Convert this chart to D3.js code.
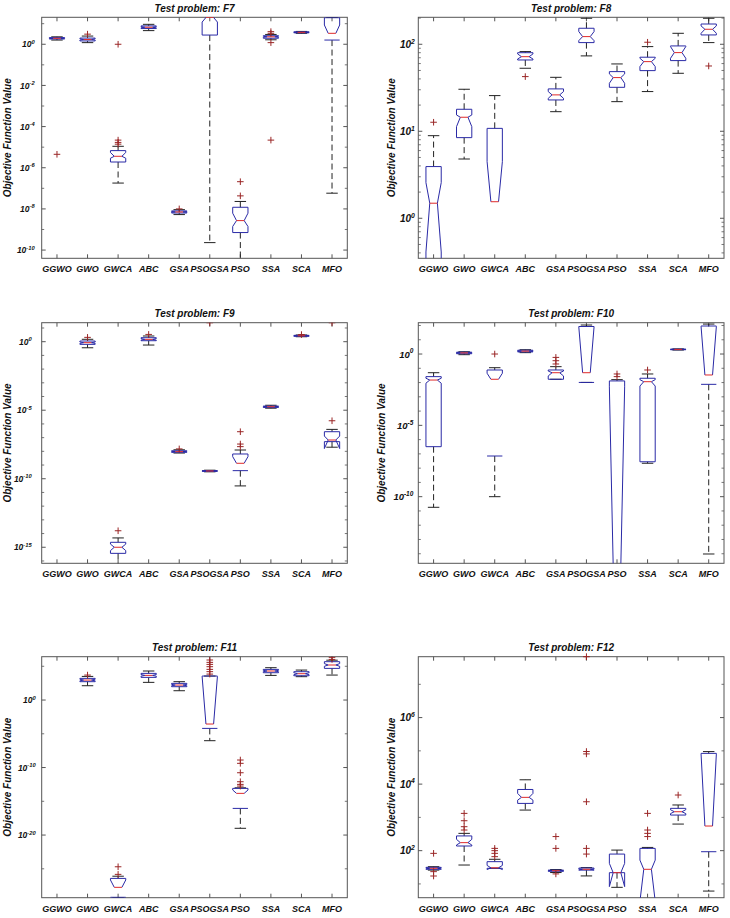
<!DOCTYPE html>
<html><head><meta charset="utf-8">
<script src="https://cdn.jsdelivr.net/npm/d3@7"></script>
<style>
body{margin:0;background:#fff;}
text{font-family:"Liberation Sans",Arial,Helvetica,sans-serif;font-weight:bold;font-style:italic;fill:#111;}
</style></head><body>
<svg id="chart" width="730" height="918"></svg>
<script>
const categories = ["GGWO","GWO","GWCA","ABC","GSA","PSOGSA","PSO","SSA","SCA","MFO"];

// ---------- F7 ----------
const F7_title = "Test problem: F7";
const F7_yLimExp = [-10.40, 1.31];
const F7_majorExp = [-10,-8,-6,-4,-2,0];
const F7_minor = [1e-9,1e-7,1e-5,1e-3,1e-1,10];
const F7_wlo = [1.6, 1.2, 1.8e-7, 4.6, 5.3e-9, 2.3e-10, 3.5e-11, 1.65, 3.4, 5.8e-8];
const F7_q1  = [1.8, 1.45, 1.9e-6, 5.8, 6.3e-9, 2.8, 7.1e-10, 1.96, 3.6, 1.6];
const F7_nlo = [1.88, 1.6, 2.9e-6, 6.3, 6.8e-9, 12, 1.4e-9, 2.15, 3.7, null];
const F7_med = [1.95, 1.7, 3.6e-6, 6.7, 7.1e-9, 20, 2.7e-9, 2.3, 3.8, 3.4];
const F7_nhi = [2.02, 1.85, 5.5e-6, 7.2, 7.5e-9, 28, 6.2e-9, 2.45, 3.9, 8.6];
const F7_q3  = [2.1, 2.0, 6.8e-6, 7.8, 8.0e-9, 30, 1.2e-8, 2.6, 4.0, 19.5];
const F7_whi = [2.3, 2.5, 1.1e-5, 9.3, 9.2e-9, 40, 2.3e-8, 3.0, 4.2, 20];
const F7_out = [[4.5e-6],[3.1],[1.4e-5,1.7e-5,2.2e-5,1.0],[],[1.0e-8],[],[4.3e-8,2.1e-7],[1.2,3.4,4.1,2.2e-5],[],[]];

// ---------- F8 ----------
const F8_title = "Test problem: F8";
const F8_yLimExp = [-0.46, 2.31];
const F8_majorExp = [0,1,2];
const F8_minor = [0.4,0.5,0.6,0.7,0.8,0.9,2,3,4,5,6,7,8,9,20,30,40,50,60,70,80,90,200];
const F8_wlo = [0.1, 4.8, 0.01, 53, 16.8, 73.5, 21.9, 28.6, 46.4, 104.5];
const F8_q1  = [0.2, 8.45, 0.1, 66, 22.9, 104.5, 32, 49.8, 64.9, 128];
const F8_nlo = [0.41, 11.3, null, 67.8, 23.9, 110, 35.6, 55.4, 69, 133.7];
const F8_med = [1.49, 14.5, 1.55, 72, 26.2, 122.5, 41.4, 63.2, 80.2, 148.7];
const F8_nhi = [2.57, 15.4, 4.48, 77.4, 28.6, 140, 45.6, 69, 94, 162.5];
const F8_q3  = [3.93, 17.9, 10.8, 80, 30.7, 152.8, 48.5, 71, 95.7, 171];
const F8_whi = [8.9, 30.4, 25.7, 82.4, 41.7, 199, 59.4, 94, 133.7, 199];
const F8_out = [[12.7],[],[],[42.5],[],[],[],[105.5],[],[56.3]];

// ---------- F9 ----------
const F9_title = "Test problem: F9";
const F9_yLimExp = [-16.17, 1.386];
const F9_majorExp = [-15,-10,-5,0];
const F9_minor = [1e-16,1e-14,1e-13,1e-12,1e-11,1e-9,1e-8,1e-7,1e-6,1e-4,1e-3,1e-2,1e-1,10];
const F9_wlo = [null, 0.36, 1e-17, 0.57, 7.5e-9, 3.2e-10, 3e-11, 1.4e-5, 2.3, 2.0e-8];
const F9_q1  = [null, 0.64, 3.6e-16, 1.18, 8.5e-9, 3.5e-10, 3.9e-10, 1.6e-5, 2.5, 5.1e-8];
const F9_nlo = [null, 0.75, 5.7e-16, 1.3, 9.0e-9, 3.6e-10, null, 1.7e-5, 2.6, 1.6e-8];
const F9_med = [null, 0.85, 1.0e-15, 1.48, 9.5e-9, 3.7e-10, 1.34e-9, 1.8e-5, 2.7, 6.7e-8];
const F9_nhi = [null, 0.95, 1.7e-15, 1.7, 1.0e-8, 3.8e-10, 4.1e-9, 1.9e-5, 2.8, 1.3e-7];
const F9_q3  = [null, 1.12, 2.3e-15, 1.96, 1.1e-8, 3.9e-10, 6.4e-9, 2.0e-5, 2.9, 2.7e-7];
const F9_whi = [null, 1.5, 4.8e-15, 2.6, 1.3e-8, 4.2e-10, 1.25e-8, 2.3e-5, 3.1, 4.0e-7];
const F9_out = [[],[2.07],[1.6e-14],[3.4],[1.5e-8],[24],[2.2e-8,3.4e-8,2.7e-7],[],[3.3],[1.7e-6,24]];

// ---------- F10 ----------
const F10_title = "Test problem: F10";
const F10_yLimExp = [-14.67, 2.196];
const F10_majorExp = [-10,-5,0];
const F10_minor = [1e-14,1e-13,1e-12,1e-11,1e-9,1e-8,1e-7,1e-6,1e-4,1e-3,1e-2,1e-1,10,100];
const F10_wlo = [1.8e-11, 0.9, 1e-10, 1.25, 0.017, 0.0102, 1e-16, 2.2e-8, 1.9, 9.6e-15];
const F10_q1  = [3.2e-7, 1.05, 7.1e-8, 1.4, 0.017, 0.0102, 1e-16, 2.8e-8, 2.0, 0.0075];
const F10_nlo = [0.009, 1.15, null, 1.5, 0.029, null, null, 0.0057, 2.05, null];
const F10_med = [0.015, 1.2, 0.017, 1.6, 0.049, 0.049, 1.5e-15, 0.0115, 2.1, 0.034];
const F10_nhi = [0.02, 1.26, 0.045, 1.7, 0.064, 82, 0.005, 0.016, 2.15, 85];
const F10_q3  = [0.026, 1.35, 0.076, 1.85, 0.076, 85, 0.013, 0.02, 2.2, 92];
const F10_whi = [0.049, 1.45, 0.11, 2.0, 0.13, 108, 0.016, 0.04, 2.3, 126];
const F10_out = [[],[],[1.0],[],[0.2,0.34,0.58],[],[0.026,0.04],[0.076],[],[]];

// ---------- F11 ----------
const F11_title = "Test problem: F11";
const F11_yLimExp = [-29.28, 6.42];
const F11_majorExp = [-20,-10,0];
const F11_minor = [1e-25,1e-15,1e-5,1e5];
const F11_wlo = [null, 132, 5e-30, 415, 24, 9.5e-7, 1e-19, 4470, 2880, 5000];
const F11_q1  = [null, 525, 6e-30, 2280, 95, 6.3e-5, 8.9e-17, 11200, 3980, 49000];
const F11_nlo = [null, 700, null, 3400, 130, null, null, 15800, 5600, 100000];
const F11_med = [null, 912, 1.8e-28, 4500, 166, 2.8e-4, 1.5e-14, 20000, 7940, 155000];
const F11_nhi = [null, 1200, 2.2e-27, 6000, 210, 3000, 4.7e-14, 25100, 11200, 250000];
const F11_q3  = [null, 1620, 3.8e-27, 8900, 295, 3600, 8.2e-14, 34700, 15800, 480000];
const F11_whi = [null, 3160, 8e-27, 20000, 525, 3600, 1.0e-13, 61700, 27500, 800000];
const F11_out = [[],[5000],[1.5e-26,2e-25],[],[],[7000,16000,35000,87000,190000,380000,850000],[1.8e-13,3.2e-13,7.9e-13,1.7e-11,4.2e-10,1.3e-9],[],[],[1.05e6,2.1e6]];

// ---------- F12 ----------
const F12_title = "Test problem: F12";
const F12_yLimExp = [0.586, 7.83];
const F12_majorExp = [2,4,6];
const F12_minor = [10,1e3,1e5,1e7];
const F12_wlo = [26, 37, 29.5, 1660, 22, 17.4, 7.9, 1.5, 630, 6.1];
const F12_q1  = [27.5, 138, 29.5, 2630, 24, 26, 21.8, 2.5, 1175, 93];
const F12_nlo = [28.5, 148, 27, 3300, 24.5, 26.5, 8.3, 3.0, 1300, null];
const F12_med = [29.5, 174, 30.5, 4000, 25, 27.5, 21.8, 27.5, 1480, 550];
const F12_nhi = [30.5, 219, 36, 5250, 25.5, 28.5, 41.5, 52, 1700, 80000];
const F12_q3  = [31.5, 277, 46.7, 6900, 26, 30, 79, 117, 1870, 84000];
const F12_whi = [33, 331, 55, 13500, 27, 31, 104, 125, 2360, 95000];
const F12_out = [[17.3,23.4,83],[417,525,794,1320],[66,83,100,117],[],[20,117,265],[79,117,2950,81000,95500,6.8e7],[],[265,331,417,1320],[4700],[]];

// ---------- layout (positions / styles only) ----------
const cols = [{left:41.7,right:347.3},{left:418.3,right:724}];
const rows = [{top:17.3,bottom:258.3},{top:322.7,bottom:563.3},{top:656.7,bottom:897.7}];
const boxColor = "#2a2aa6", medColor = "#e02a2a", outColor = "#9a2626", whiskColor = "#222", frameColor = "#555";

function build(title, lim, major, minor, wlo,q1,nlo,med,nhi,q3,whi,out, r, c, lay){
  return {title, lim, major, minor, r, c, lay,
    data: categories.map((cat,i)=>({cat, wlo:wlo[i], q1:q1[i], nlo:nlo[i], med:med[i], nhi:nhi[i], q3:q3[i], whi:whi[i], out:out[i]}))};
}
const panels = [
  build(F7_title, F7_yLimExp, F7_majorExp, F7_minor, F7_wlo,F7_q1,F7_nlo,F7_med,F7_nhi,F7_q3,F7_whi,F7_out, 0,0, {tf:8.5,gap:7,ylx:7.2}),
  build(F8_title, F8_yLimExp, F8_majorExp, F8_minor, F8_wlo,F8_q1,F8_nlo,F8_med,F8_nhi,F8_q3,F8_whi,F8_out, 0,1, {tf:10,gap:3.5,ylx:391.7}),
  build(F9_title, F9_yLimExp, F9_majorExp, F9_minor, F9_wlo,F9_q1,F9_nlo,F9_med,F9_nhi,F9_q3,F9_whi,F9_out, 1,0, {tf:8.5,gap:10,ylx:7.2}),
  build(F10_title, F10_yLimExp, F10_majorExp, F10_minor, F10_wlo,F10_q1,F10_nlo,F10_med,F10_nhi,F10_q3,F10_whi,F10_out, 1,1, {tf:9.5,gap:5,ylx:381.7}),
  build(F11_title, F11_yLimExp, F11_majorExp, F11_minor, F11_wlo,F11_q1,F11_nlo,F11_med,F11_nhi,F11_q3,F11_whi,F11_out, 2,0, {tf:8.5,gap:6,ylx:7.2}),
  build(F12_title, F12_yLimExp, F12_majorExp, F12_minor, F12_wlo,F12_q1,F12_nlo,F12_med,F12_nhi,F12_q3,F12_whi,F12_out, 2,1, {tf:10,gap:3.5,ylx:391.7})
];

const svg = d3.select("#chart");
svg.append("rect").attr("width",730).attr("height",918).attr("fill","#fff");
const defs = svg.append("defs");

panels.forEach((p,pi)=>{
  const L = cols[p.c].left, R = cols[p.c].right, T = rows[p.r].top, B = rows[p.r].bottom;
  const x = d3.scaleBand().domain(categories).range([L,R]).padding(0);
  const y = d3.scaleLog().domain([Math.pow(10,p.lim[0]), Math.pow(10,p.lim[1])]).range([B,T]);
  const g = svg.append("g");
  const cid = "clip"+pi;
  defs.append("clipPath").attr("id",cid).append("rect").attr("x",L).attr("y",T).attr("width",R-L).attr("height",B-T);

  // frame
  g.append("rect").attr("x",L).attr("y",T).attr("width",R-L).attr("height",B-T)
    .attr("fill","none").attr("stroke",frameColor).attr("stroke-width",1);

  // y ticks (major + minor), both sides, inward
  const majorVals = p.major.map(e=>Math.pow(10,e));
  majorVals.forEach(v=>{
    const yy = y(v);
    g.append("line").attr("x1",L).attr("x2",L+4).attr("y1",yy).attr("y2",yy).attr("stroke",frameColor);
    g.append("line").attr("x1",R).attr("x2",R-4).attr("y1",yy).attr("y2",yy).attr("stroke",frameColor);
  });
  p.minor.forEach(v=>{
    const yy = y(v);
    if (yy < T || yy > B) return;
    g.append("line").attr("x1",L).attr("x2",L+2.5).attr("y1",yy).attr("y2",yy).attr("stroke",frameColor).attr("stroke-width",0.8);
    g.append("line").attr("x1",R).attr("x2",R-2.5).attr("y1",yy).attr("y2",yy).attr("stroke",frameColor).attr("stroke-width",0.8);
  });
  // y tick labels 10^e
  p.major.forEach(e=>{
    const t = g.append("text").attr("x",L-p.lay.gap).attr("y",y(Math.pow(10,e))).attr("dy","0.38em")
      .attr("text-anchor","end").style("font-size",p.lay.tf+"px");
    t.append("tspan").text("10");
    t.append("tspan").attr("dy","-0.65em").style("font-size",(p.lay.tf*0.68)+"px").text(String(e));
  });

  // x ticks top and bottom + labels
  categories.forEach(cat=>{
    const cx = x(cat)+x.bandwidth()/2;
    g.append("line").attr("x1",cx).attr("x2",cx).attr("y1",B).attr("y2",B-4).attr("stroke",frameColor);
    g.append("line").attr("x1",cx).attr("x2",cx).attr("y1",T).attr("y2",T+4).attr("stroke",frameColor);
    g.append("text").attr("x",cx).attr("y",B+14).attr("text-anchor","middle").style("font-size","9px").text(cat);
  });

  // title and y label
  g.append("text").attr("x",(L+R)/2).attr("y",T-5.3).attr("text-anchor","middle").style("font-size","10px").text(p.title);
  g.append("text").attr("transform",`translate(${p.lay.ylx},${(T+B)/2}) rotate(-90)`).attr("dy","0.35em")
    .attr("text-anchor","middle").style("font-size","10px").text("Objective Function Value");

  // boxes
  const plot = g.append("g").attr("clip-path",`url(#${cid})`);
  const bw = x.bandwidth(), hw = bw*0.25, cw = hw*0.75;
  const ok = v => v!=null && v>0;
  const line = d3.line().defined(d=>ok(d[1])).x(d=>d[0]).y(d=>y(d[1]));
  p.data.forEach(d=>{
    if(!ok(d.med)) return;
    const cx = x(d.cat)+bw/2;
    // whiskers
    if(ok(d.whi) && d.whi>d.q3){
      plot.append("line").attr("x1",cx).attr("x2",cx).attr("y1",y(d.q3)).attr("y2",y(d.whi))
        .attr("stroke",whiskColor).attr("stroke-width",1).attr("stroke-dasharray","6,3.5");
    }
    if(ok(d.wlo) && ok(d.q1) && d.wlo<d.q1){
      plot.append("line").attr("x1",cx).attr("x2",cx).attr("y1",y(d.q1)).attr("y2",y(d.wlo))
        .attr("stroke",whiskColor).attr("stroke-width",1).attr("stroke-dasharray","6,3.5");
    }
    [d.whi,d.wlo].forEach(v=>{
      if(!ok(v)) return;
      plot.append("line").attr("x1",cx-cw).attr("x2",cx+cw).attr("y1",y(v)).attr("y2",y(v))
        .attr("stroke",whiskColor).attr("stroke-width",1);
    });
    // notched box (MATLAB vertex order)
    const pts = [[cx-hw,d.q1],[cx-hw,d.nlo],[cx-hw/2,d.med],[cx-hw,d.nhi],[cx-hw,d.q3],
                 [cx+hw,d.q3],[cx+hw,d.nhi],[cx+hw/2,d.med],[cx+hw,d.nlo],[cx+hw,d.q1],[cx-hw,d.q1]];
    plot.append("path").attr("d",line(pts)).attr("fill","none").attr("stroke",boxColor).attr("stroke-width",1);
    // median
    plot.append("line").attr("x1",cx-hw/2).attr("x2",cx+hw/2).attr("y1",y(d.med)).attr("y2",y(d.med))
      .attr("stroke",medColor).attr("stroke-width",1);
    // outliers
    d.out.forEach(v=>{
      const yy = y(v);
      plot.append("path").attr("d",`M${cx-3.3},${yy}H${cx+3.3}M${cx},${yy-3.3}V${yy+3.3}`)
        .attr("stroke",outColor).attr("stroke-width",1).attr("fill","none");
    });
  });
  // outliers may sit on the frame edge: draw ones within 3px outside unclipped
  p.data.forEach(d=>{
    if(!d.out) return;
    const cx = x(d.cat)+bw/2;
    d.out.forEach(v=>{
      const yy = y(v);
      if((yy<T && yy>T-4) ){
        g.append("path").attr("d",`M${cx-3.3},${yy}H${cx+3.3}M${cx},${yy-3.3}V${yy+3.3}`)
          .attr("stroke",outColor).attr("stroke-width",1).attr("fill","none");
      }
    });
  });
});
</script>
</body></html>
